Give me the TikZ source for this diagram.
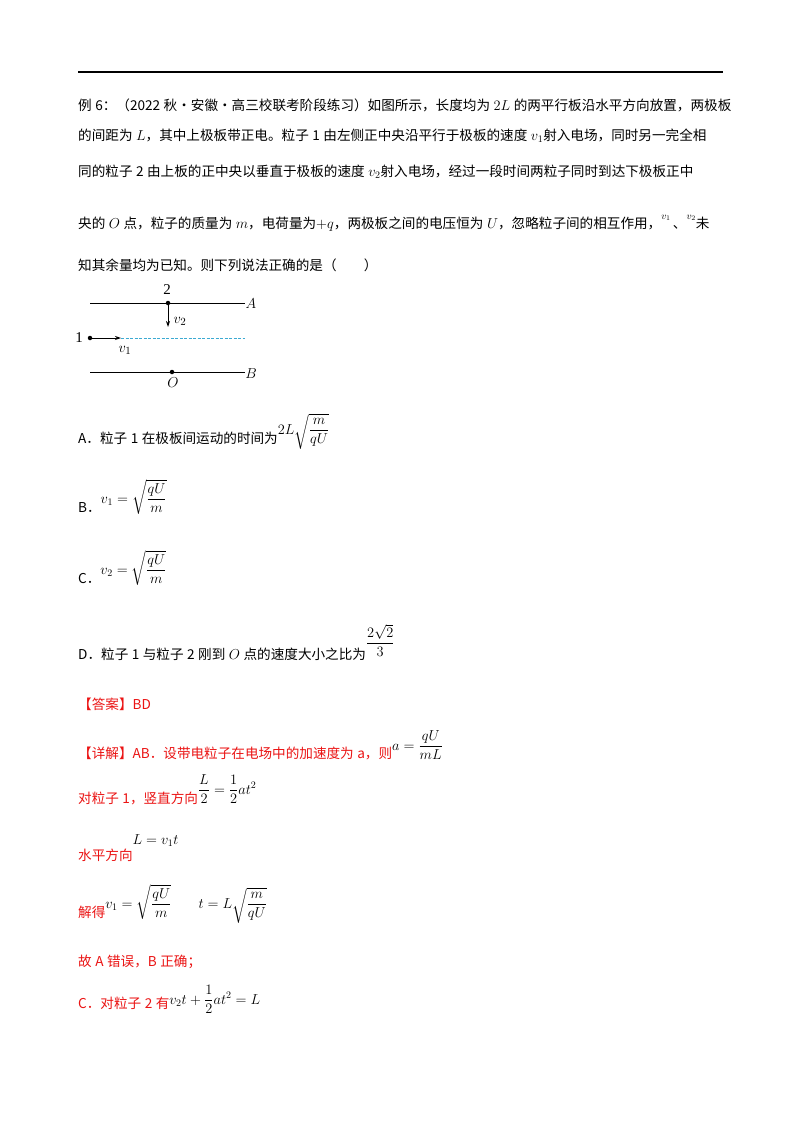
\documentclass[tikz,border=0pt]{standalone}
\usepackage{amsmath}
\usepackage{fontspec}
\setmainfont{Noto Sans CJK SC}
\newfontfamily\latn{Liberation Serif}
\usetikzlibrary{arrows.meta}
\definecolor{ansred}{RGB}{235,20,20}
\definecolor{dashcyan}{RGB}{60,170,210}
\tikzset{
  txt/.style={anchor=base west,inner sep=0pt,font=\fontsize{13.6}{16}\selectfont},
  red/.style={txt,text=ansred},
  lbl/.style={inner sep=0pt,font=\fontsize{15}{16}\selectfont\latn},
  plate/.style={line width=1pt},
  dotm/.style={circle,fill,inner sep=0pt,minimum size=4.5pt},
  arr/.style={line width=0.9pt,-{Stealth[length=6pt,width=4pt]}}
}
\newcommand{\gp}{\hspace{3.5pt}}
\begin{document}
\begin{tikzpicture}[x=1pt,y=-1pt]
\useasboundingbox (0,0) rectangle (800,1132);
\fill[white] (0,0) rectangle (800,1132);
\draw[line width=2pt] (78,72) -- (723,72);
\node[txt] (l1) at (78,110) {例\gp6：（2022\gp 秋·安徽·高三校联考阶段练习）如图所示，长度均为\gp$2L$\gp 的两平行板沿水平方向放置，两极板};
\node[txt] (l2) at (78,140) {的间距为\gp$L$，其中上极板带正电。粒子\gp1\gp 由左侧正中央沿平行于极板的速度\gp$v_1$射入电场，同时另一完全相};
\node[txt] (l3) at (78,176) {同的粒子\gp2\gp 由上板的正中央以垂直于极板的速度\gp$v_2$射入电场，经过一段时间两粒子同时到达下极板正中};
\node[txt] (l4) at (78,228) {央的\gp$O$\gp 点，粒子的质量为\gp$m$，电荷量为$+q$，两极板之间的电压恒为\gp$U$，忽略粒子间的相互作用，\raisebox{9pt}{$\scriptstyle v_1$}\,、\raisebox{9pt}{$\scriptstyle v_2$}未};
\node[txt] (l5) at (78,270) {知其余量均为已知。则下列说法正确的是（\quad\quad）};
% diagram
\coordinate (a1) at (90,303); \coordinate (a2) at (245,303);
\coordinate (b1) at (90,372); \coordinate (b2) at (245,372);
\draw[plate] (a1) -- (a2);
\draw[plate] (b1) -- (b2);
\node[dotm] (p2) at (168,303) {};
\node[dotm] (p1) at (90,338) {};
\node[dotm] (po) at (172,372) {};
\coordinate (e2) at (168,327);
\coordinate (e1) at (121,338);
\coordinate (de) at (245,338);
\draw[arr] (p2) -- (e2);
\draw[arr] (p1) -- (e1);
\draw[dashcyan,dashed,line width=0.9pt,dash pattern=on 3pt off 1.5pt] (e1) -- (de);
\node[lbl] (t2) at (167,290) {2};
\node[lbl] (t1) at (79,338) {1};
\node[lbl] (tA) at (251,304) {$A$};
\node[lbl] (tB) at (251,374) {$B$};
\node[lbl] (tO) at (173,383) {$O$};
\node[lbl] (tv2) at (180,321) {$v_2$};
\node[lbl] (tv1) at (125,350) {$v_1$};
% options
\node[txt] (oa) at (78,443) {A．粒子\gp1\gp 在极板间运动的时间为\raisebox{9pt}{$2L\sqrt{\dfrac{m}{qU}}$}};
\node[txt] (ob) at (78,512) {B．\raisebox{9pt}{$v_1=\sqrt{\dfrac{qU}{m}}$}};
\node[txt] (oc) at (78,583) {C．\raisebox{9pt}{$v_2=\sqrt{\dfrac{qU}{m}}$}};
\node[txt] (od) at (78,659) {D．粒子\gp1\gp 与粒子\gp2\gp 刚到\gp$O$\gp 点的速度大小之比为\raisebox{12pt}{$\dfrac{2\sqrt2}{3}$}};
% answer
\node[red] (ans) at (78,709) {【答案】BD};
\node[red] (x1) at (78,758) {【详解】AB．设带电粒子在电场中的加速度为\gp a，则\textcolor{black}{\raisebox{8pt}{$a=\dfrac{qU}{mL}$}}};
\node[red] (x2) at (78,803) {对粒子\gp1，竖直方向\textcolor{black}{\raisebox{9pt}{$\dfrac{L}{2}=\dfrac12at^2$}}};
\node[red] (x3) at (78,860) {水平方向\textcolor{black}{\raisebox{16pt}{$L=v_1t$}}};
\node[red] (x4) at (78,917) {解得\textcolor{black}{\raisebox{9pt}{$v_1=\sqrt{\dfrac{qU}{m}}$\qquad$t=L\sqrt{\dfrac{m}{qU}}$}}};
\node[red] (x5) at (78,966) {故\gp A\gp 错误，B\gp 正确；};
\node[red] (x6) at (78,1008) {C．对粒子\gp2\gp 有\textcolor{black}{\raisebox{4pt}{$v_2t+\dfrac12at^2=L$}}};
\end{tikzpicture}
\end{document}
